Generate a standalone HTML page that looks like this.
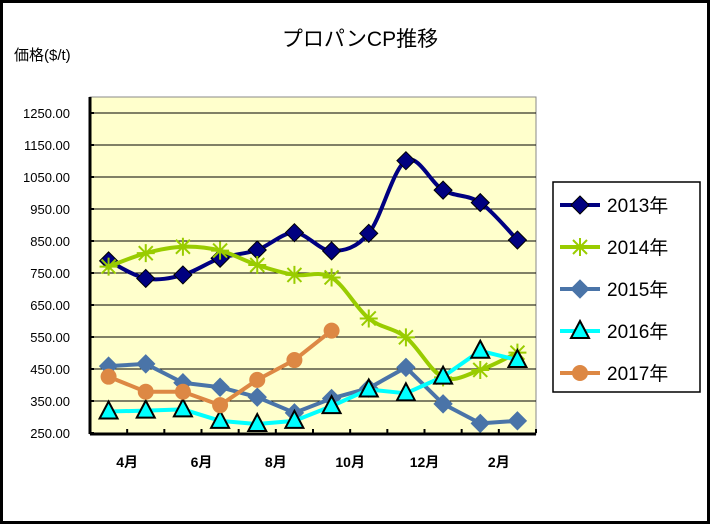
<!DOCTYPE html>
<html><head><meta charset="utf-8"><style>
html,body{margin:0;padding:0;background:#fff}
svg{display:block;font-family:"Liberation Sans","Noto Sans CJK JP",sans-serif}
</style></head><body>
<svg id="c" width="710" height="524">
<rect x="1.5" y="1.5" width="707" height="521" fill="#fff" stroke="#000" stroke-width="3"/>
<text x="360" y="46" font-size="21" text-anchor="middle">プロパンCP推移</text>
<text x="14" y="60" font-size="15">価格($/t)</text>
<rect x="90" y="97" width="446" height="337" fill="#FFFFCC" stroke="#888" stroke-width="1"/>
<g id="grid"></g><g id="series"></g><g id="axes"></g>
<g>
<rect x="553" y="182" width="147" height="210" fill="#fff" stroke="#000" stroke-width="1.5"/>
<g id="legend"></g>
</g>
</svg>
<script>
const months=["4月","5月","6月","7月","8月","9月","10月","11月","12月","1月","2月","3月"];
const yTicks=[250,350,450,550,650,750,850,950,1050,1150,1250];
const names=["2013年","2014年","2015年","2016年","2017年"];
const s2013=[788,733,744,796,822,876,819,874,1101,1009,970,853];
const s2014=[770,812,832,820,775,744,736,608,549,424,447,501];
const s2015=[459,466,407,393,362,313,358,390,455,341,280,288];
const s2016=[317,320,324,288,278,288,334,386,374,426,507,478];
const s2017=[426,379,379,337,416,478,570];
const data=[s2013,s2014,s2015,s2016,s2017];
const colors=["#000080","#99CC00","#4A74A8","#00FFFF","#DD8844"];
const markers=["diamond","star","diamond","triangle","circle"];
const smooth=[true,true,false,false,false];
const L=90,R=536,B=433,NS="http://www.w3.org/2000/svg";
const bw=(R-L)/months.length;
const xs=i=>L+bw*(i+0.5);
const ys=v=>B-(v-250)*0.32;
function el(t,a,p){const e=document.createElementNS(NS,t);for(const k in a)e.setAttribute(k,a[k]);p.appendChild(e);return e;}
const grid=document.getElementById('grid'),axes=document.getElementById('axes'),ser=document.getElementById('series'),leg=document.getElementById('legend');
yTicks.forEach(v=>{
 if(v>250){const g=el('line',{x1:L,x2:R,y1:ys(v),y2:ys(v),stroke:'#000','stroke-width':1},grid);
 
 }
 const t=el('text',{x:70,y:ys(v)+5,'font-size':13,'text-anchor':'end'},axes);t.textContent=v.toFixed(2);
 
 
 el('line',{x1:L,x2:L+4,y1:ys(v),y2:ys(v),stroke:'#000','stroke-width':2},axes);
});
el('line',{x1:L,x2:L,y1:97,y2:B+1,stroke:'#000','stroke-width':3},axes);
el('line',{x1:L,x2:R,y1:B+1,y2:B+1,stroke:'#000','stroke-width':3},axes);
for(let i=1;i<=months.length;i++)el('line',{x1:L+bw*i,x2:L+bw*i,y1:B,y2:B-4,stroke:'#000','stroke-width':2},axes);
months.forEach((m,i)=>{if(i%2==0){const t=el('text',{x:L+bw*(i+1),y:467,'font-size':14,'text-anchor':'middle','font-weight':'bold'},axes);t.textContent=m;
 
 }});
function pathD(p,sm){let d='M'+p[0][0]+','+p[0][1];
 for(let i=1;i<p.length;i++){if(!sm){d+=' L'+p[i][0]+','+p[i][1];continue;}
  const p0=p[Math.max(0,i-2)],p1=p[i-1],p2=p[i],p3=p[Math.min(p.length-1,i+1)];
  const c1=[p1[0]+(p2[0]-p0[0])/6,p1[1]+(p2[1]-p0[1])/6],c2=[p2[0]-(p3[0]-p1[0])/6,p2[1]-(p3[1]-p1[1])/6];
  d+=' C'+c1+' '+c2+' '+p2;}
 return d;}
function marker(type,x,y,col,g){
 if(type=='diamond')return el('path',{d:`M${x},${y-9}L${x+9},${y}L${x},${y+9}L${x-9},${y}Z`,fill:col,stroke:col=='#000080'?'#000':col,'stroke-width':1},g);
 if(type=='triangle')return el('path',{d:`M${x},${y-10}L${x+9},${y+7}L${x-9},${y+7}Z`,fill:col,stroke:'#000','stroke-width':2},g);
 if(type=='circle')return el('circle',{cx:x,cy:y,r:8,fill:col},g);
 return el('path',{d:`M${x-9},${y}H${x+9}M${x},${y-9}V${y+9}M${x-7},${y-7}L${x+7},${y+7}M${x-7},${y+7}L${x+7},${y-7}`,stroke:col,'stroke-width':2},g);
}
data.forEach((arr,k)=>{
 const g=el('g',{},ser);
 
 
 const pts=arr.map((v,i)=>[xs(i),ys(v)]);
 el('path',{d:pathD(pts,smooth[k]),fill:'none',stroke:colors[k],'stroke-width':4,'stroke-linejoin':'round'},g);
 pts.forEach(p=>{const m=marker(markers[k],p[0],p[1],colors[k],g);
  
  });
 const ly=205+k*42;
 const lg=el('g',{},leg);
 
 
 el('line',{x1:560,x2:600,y1:ly,y2:ly,stroke:colors[k],'stroke-width':4},lg);
 marker(markers[k],580,ly,colors[k],lg);
 const t=el('text',{x:607,y:ly+7,'font-size':19},lg);t.textContent=names[k];
});
</script>
</body></html>
